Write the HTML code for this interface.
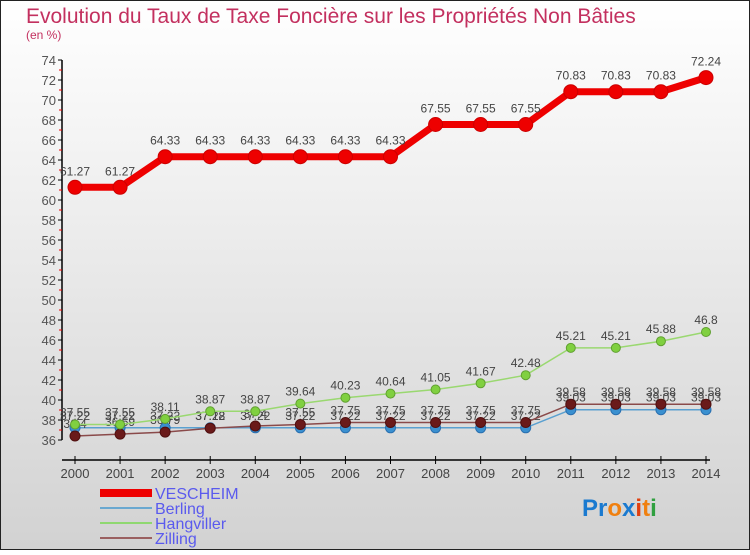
<!DOCTYPE html>
<html><head><meta charset="utf-8"><style>
html,body{margin:0;padding:0}
body{width:750px;height:550px;overflow:hidden;font-family:"Liberation Sans",sans-serif}
</style></head><body>
<svg width="750" height="550" xmlns="http://www.w3.org/2000/svg">
<defs><linearGradient id="bg" x1="0" y1="0" x2="0" y2="1"><stop offset="0" stop-color="#ffffff"/><stop offset="1" stop-color="#d2d2d2"/></linearGradient></defs>
<rect x="0.5" y="0.5" width="749" height="549" fill="url(#bg)" stroke="#222"/>
<text x="26" y="23" font-size="21" fill="#c3305f">Evolution du Taux de Taxe Foncière sur les Propriétés Non Bâties</text>
<text x="26" y="39" font-size="12" fill="#c3305f">(en %)</text>
<g id="axes"></g><g id="series"></g>
<g>
<rect x="100" y="489" width="52" height="8" fill="#e00"/>
<text x="155" y="499" font-size="16" fill="#5a5aee">VESCHEIM</text>
<line x1="100" y1="508" x2="152" y2="508" stroke="#6aa8d0" stroke-width="2"/>
<text x="155" y="514" font-size="16" fill="#5a5aee">Berling</text>
<line x1="100" y1="523" x2="152" y2="523" stroke="#8fd870" stroke-width="2"/>
<text x="155" y="529" font-size="16" fill="#5a5aee">Hangviller</text>
<line x1="100" y1="538" x2="152" y2="538" stroke="#9a6060" stroke-width="2"/>
<text x="155" y="544" font-size="16" fill="#5a5aee">Zilling</text>
</g>
<text x="582" y="516" font-size="24" font-weight="bold"><tspan fill="#1a7ad0">Pr</tspan><tspan fill="#f08010">o</tspan><tspan fill="#1a7ad0">x</tspan><tspan fill="#e04010">i</tspan><tspan fill="#f08010">t</tspan><tspan fill="#30a040">i</tspan></text>
</svg>
<script>
const years=[2000,2001,2002,2003,2004,2005,2006,2007,2008,2009,2010,2011,2012,2013,2014];
const vescheim=[61.27,61.27,64.33,64.33,64.33,64.33,64.33,64.33,67.55,67.55,67.55,70.83,70.83,70.83,72.24];
const berling=[37.22,37.22,37.22,37.22,37.22,37.22,37.22,37.22,37.22,37.22,37.22,39.03,39.03,39.03,39.03];
const hangviller=[37.55,37.55,38.11,38.87,38.87,39.64,40.23,40.64,41.05,41.67,42.48,45.21,45.21,45.88,46.8];
const zilling=[36.4,36.59,36.79,37.18,37.4,37.55,37.75,37.75,37.75,37.75,37.75,39.58,39.58,39.58,39.58];
const yTicks=[36,38,40,42,44,46,48,50,52,54,56,58,60,62,64,66,68,70,72,74];
const NS="http://www.w3.org/2000/svg";
const x=i=>75+i*(706-75)/(years.length-1);
const y=v=>440-(v-36)*10;
function mk(t,a,p){const e=document.createElementNS(NS,t);for(const k in a)e.setAttribute(k,a[k]);p.appendChild(e);return e;}
const ax=document.getElementById('axes');
let l=mk('line',{x1:62,y1:y(74),x2:62,y2:y(36),stroke:'#000','stroke-width':1.5},ax);


l=mk('line',{x1:62,y1:460,x2:710,y2:460,stroke:'#000','stroke-width':1.5},ax);


yTicks.forEach(v=>{
 mk('line',{x1:58,y1:y(v),x2:62,y2:y(v),stroke:'#000'},ax);
 if(v<74)mk('line',{x1:59,y1:y(v+1),x2:62,y2:y(v+1),stroke:'#e00'},ax);
 const t=mk('text',{x:56,y:y(v)+5,'font-size':13,fill:'#555','text-anchor':'end'},ax);
 
 
 t.textContent=v;
});
years.forEach((yr,i)=>{
 mk('line',{x1:x(i),y1:456,x2:x(i),y2:464,stroke:'#000'},ax);
 const t=mk('text',{x:x(i),y:478,'font-size':13,fill:'#444','text-anchor':'middle'},ax);
 
 
 t.textContent=yr;
});
const sg=document.getElementById('series');
function draw(name,vals,color,w,r,dot,dotStroke){
 const g=mk('g',{},sg);
 
 
 const p=mk('polyline',{points:vals.map((v,i)=>x(i)+','+y(v)).join(' '),fill:'none',stroke:color,'stroke-width':w},g);
 
 
 vals.forEach((v,i)=>{
  const c=mk('circle',{cx:x(i),cy:y(v),r:r,fill:dot,stroke:dotStroke,'stroke-width':1},g);
  
  
  const t=mk('text',{x:x(i),y:y(v)-(name==='vescheim'?12:8),'font-size':12,fill:'#444','text-anchor':'middle'},g);
  
  
  t.textContent=v;
 });
}
draw('berling',berling,'#5aa0d0',1.5,5,'#3a90d0','#2a70b0');
draw('zilling',zilling,'#8a4a4a',1.5,5,'#6a1a1a','#501010');
draw('hangviller',hangviller,'#9ad870',1.5,4.5,'#80d040','#60a030');
draw('vescheim',vescheim,'#ee0000',7,7,'#ee0000','#cc0000');
</script>
</body></html>
